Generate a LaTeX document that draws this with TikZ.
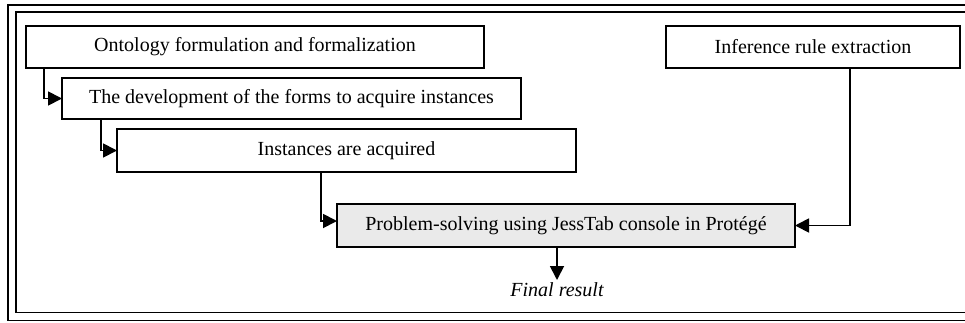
\documentclass[tikz,border=0pt]{standalone}
\usepackage{fontspec}
\setmainfont{Liberation Serif}
\usetikzlibrary{arrows.meta}
\definecolor{boxgray}{HTML}{EAEAEA}
\begin{document}
\begin{tikzpicture}[x=1pt,y=-1pt,
  stepbox/.style={draw=black, line width=1.8pt, fill=white, rectangle, inner sep=0pt, outer sep=0pt,
    font=\fontsize{20}{23}\selectfont, text=black},
  arr/.style={draw=black, line width=1.8pt, -{Triangle[length=14pt,width=14pt]}},
  frameline/.style={draw=black, line width=1.5pt}]
\useasboundingbox (0,0) rectangle (965,322);
% double frame (right side cut off)
\draw[frameline] (975,5) -- (8,5) -- (8,320.5) -- (975,320.5);
\draw[frameline] (975,12) -- (16,12) -- (16,312.7) -- (975,312.7);
% boxes
\node[stepbox, minimum width=458pt, minimum height=42pt] (b1) at (255,47) {Ontology formulation and formalization};
\node[stepbox, minimum width=459pt, minimum height=41pt] (b2) at (291.5,98.5) {The development of the forms to acquire instances};
\node[stepbox, minimum width=459pt, minimum height=43pt] (b3) at (346.5,150.5) {Instances are acquired};
\node[stepbox, fill=boxgray, minimum width=458pt, minimum height=43pt] (b4) at (566,225.5) {Problem-solving using JessTab console in Protégé};
\node[stepbox, minimum width=294pt, minimum height=42pt] (b5) at (813,47) {Inference rule extraction};
\node[font=\fontsize{20}{23}\selectfont\itshape, anchor=north, inner sep=0pt] (res) at (557,282) {Final result};
% connectors
\draw[arr] ([xshift=18pt]b1.south west) |- (b2.west);
\draw[arr] ([xshift=38.7pt]b2.south west) |- (b3.west);
\draw[arr] ([xshift=203.7pt]b3.south west) |- ([yshift=4.5pt]b4.west);
\draw[arr] ([xshift=184pt]b5.south west) |- (b4.east);
\draw[arr] ([xshift=220pt]b4.south west) -- ([xshift=220pt,yshift=-33pt]b4.south west);
\end{tikzpicture}
\end{document}
